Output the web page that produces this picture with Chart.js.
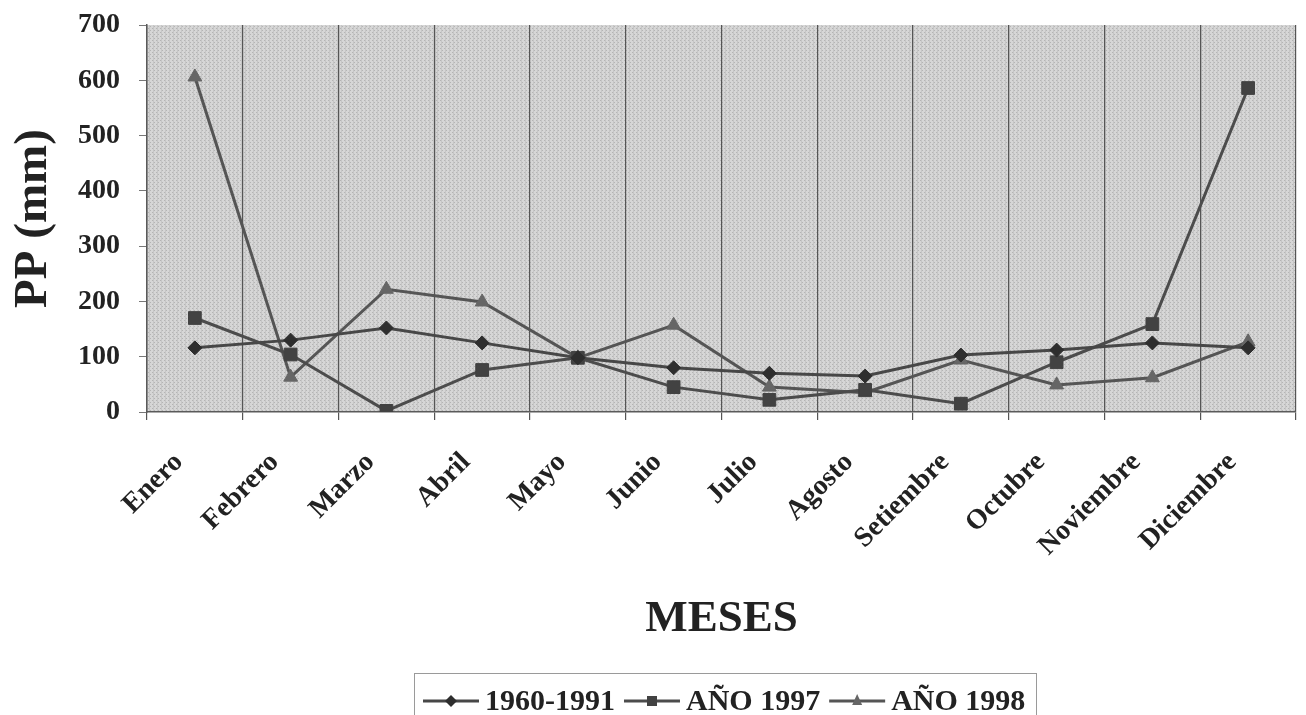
<!DOCTYPE html>
<html>
<head>
<meta charset="utf-8">
<script src="https://cdn.jsdelivr.net/npm/chart.js@4"></script>
<style>
  html, body { margin: 0; padding: 0; background: #fff; }
  #wrap { width: 1306px; height: 715px; }
</style>
</head>
<body>
<div id="wrap"><canvas id="myChart" width="1306" height="715"></canvas></div>
<script>
const meses = ["Enero", "Febrero", "Marzo", "Abril", "Mayo", "Junio", "Julio",
  "Agosto", "Setiembre", "Octubre", "Noviembre", "Diciembre"];

// precipitación mensual (mm)
const pp1960_1991 = [116, 130, 152, 125, 98, 80, 70, 65, 103, 112, 125, 116];
const pp1997 = [170, 104, 2, 76, 98, 45, 22, 40, 15, 90, 159, 586];
const pp1998 = [606, 63, 222, 199, 98, 157, 45, 35, 94, 49, 62, 127];

const yTicks = [0, 100, 200, 300, 400, 500, 600, 700];

const serif = "'Liberation Serif', 'Times New Roman', serif";

// fondo gris punteado del área del gráfico
function makeTexture() {
  const c = document.createElement("canvas");
  c.width = 4;
  c.height = 4;
  const g = c.getContext("2d");
  g.fillStyle = "#d6d6d6";
  g.fillRect(0, 0, 4, 4);
  g.fillStyle = "#b4b4b4";
  g.fillRect(0, 0, 1, 1);
  g.fillRect(2, 2, 1, 1);
  g.fillStyle = "#c6c6c6";
  g.fillRect(1, 0, 1, 4);
  return c;
}

const plotBackground = {
  id: "plotBackground",
  beforeDraw(chart) {
    const { ctx, chartArea } = chart;
    ctx.save();
    ctx.fillStyle = ctx.createPattern(makeTexture(), "repeat");
    ctx.fillRect(chartArea.left, chartArea.top,
      chartArea.right - chartArea.left, chartArea.bottom - chartArea.top);
    ctx.restore();
  },
};

// leyenda con línea y marcador, dentro de un recuadro
const boxLegend = {
  id: "boxLegend",
  afterDraw(chart) {
    const ctx = chart.ctx;
    const y = 701;
    ctx.save();
    ctx.font = "bold 30px " + serif;
    ctx.textBaseline = "middle";

    ctx.strokeStyle = "#9a9a9a";
    ctx.lineWidth = 1;
    ctx.strokeRect(414.5, 673.5, 622, 60);

    let x = 423;
    chart.data.datasets.forEach((ds) => {
      ctx.strokeStyle = ds.borderColor;
      ctx.lineWidth = 3;
      ctx.beginPath();
      ctx.moveTo(x, y);
      ctx.lineTo(x + 56, y);
      ctx.stroke();

      const cx = x + 28;
      ctx.fillStyle = ds.pointBackgroundColor;
      ctx.beginPath();
      if (ds.pointStyle === "rectRot") {
        ctx.moveTo(cx, y - 6);
        ctx.lineTo(cx + 6, y);
        ctx.lineTo(cx, y + 6);
        ctx.lineTo(cx - 6, y);
      } else if (ds.pointStyle === "rect") {
        ctx.rect(cx - 5, y - 5, 10, 10);
      } else {
        ctx.moveTo(cx, y - 7);
        ctx.lineTo(cx + 5, y + 4);
        ctx.lineTo(cx - 5, y + 4);
      }
      ctx.closePath();
      ctx.fill();

      ctx.fillStyle = "#222";
      ctx.fillText(ds.label, x + 62, y + 1);
      x += 62 + ctx.measureText(ds.label).width + 9;
    });
    ctx.restore();
  },
};

function createChart() {
  const ctx = document.getElementById("myChart").getContext("2d");
  new Chart(ctx, {
    type: "line",
    data: {
      labels: meses,
      datasets: [
        {
          label: "1960-1991",
          data: pp1960_1991,
          borderColor: "#474747",
          pointBackgroundColor: "#2e2e2e",
          pointBorderColor: "#2e2e2e",
          pointStyle: "rectRot",
          pointRadius: 7,
        },
        {
          label: "AÑO 1997",
          data: pp1997,
          borderColor: "#4c4c4c",
          pointBackgroundColor: "#424242",
          pointBorderColor: "#424242",
          pointStyle: "rect",
          pointRadius: 9,
        },
        {
          label: "AÑO 1998",
          data: pp1998,
          borderColor: "#555",
          pointBackgroundColor: "#666",
          pointBorderColor: "#666",
          pointStyle: "triangle",
          pointRadius: 8,
        },
      ],
    },
    options: {
      responsive: false,
      animation: false,
      layout: { padding: { top: 25, right: 3, left: 0, bottom: 48 } },
      elements: { line: { borderWidth: 3, tension: 0 } },
      plugins: {
        legend: { display: false },
        tooltip: { enabled: false },
      },
      scales: {
        x: {
          offset: true,
          afterFit: (scale) => {
            scale.height = 255;
            scale.paddingLeft = 0;
            scale.paddingRight = 0;
          },
          grid: {
            offset: true,
            color: "#555",
            lineWidth: 1.2,
            tickLength: 8,
          },
          border: { color: "#5a5a5a", width: 1.5 },
          ticks: {
            minRotation: 45,
            maxRotation: 45,
            padding: 26,
            labelOffset: -16,
            color: "#222",
            font: { family: serif, size: 28, weight: "bold" },
          },
          title: {
            display: true,
            text: "MESES",
            color: "#222",
            padding: { top: 0, bottom: 21 },
            font: { family: serif, size: 45, weight: "bold" },
          },
        },
        y: {
          min: 0,
          max: 700,
          afterFit: (scale) => {
            scale.width = 147;
            scale.paddingTop = 0;
            scale.paddingBottom = 0;
          },
          afterBuildTicks: (scale) => {
            scale.ticks = yTicks.map((v) => ({ value: v }));
          },
          grid: {
            drawOnChartArea: false,
            color: "#777",
            tickLength: 8,
          },
          border: { color: "#5a5a5a", width: 1.5 },
          ticks: {
            padding: 19,
            color: "#222",
            font: { family: serif, size: 28, weight: "bold" },
          },
          title: {
            display: true,
            text: "PP (mm)",
            color: "#222",
            padding: { top: 6, bottom: 0 },
            font: { family: serif, size: 47, weight: "bold" },
          },
        },
      },
    },
    plugins: [plotBackground, boxLegend],
  });
}

document.addEventListener("DOMContentLoaded", () => {
  createChart();
});
</script>
</body>
</html>
